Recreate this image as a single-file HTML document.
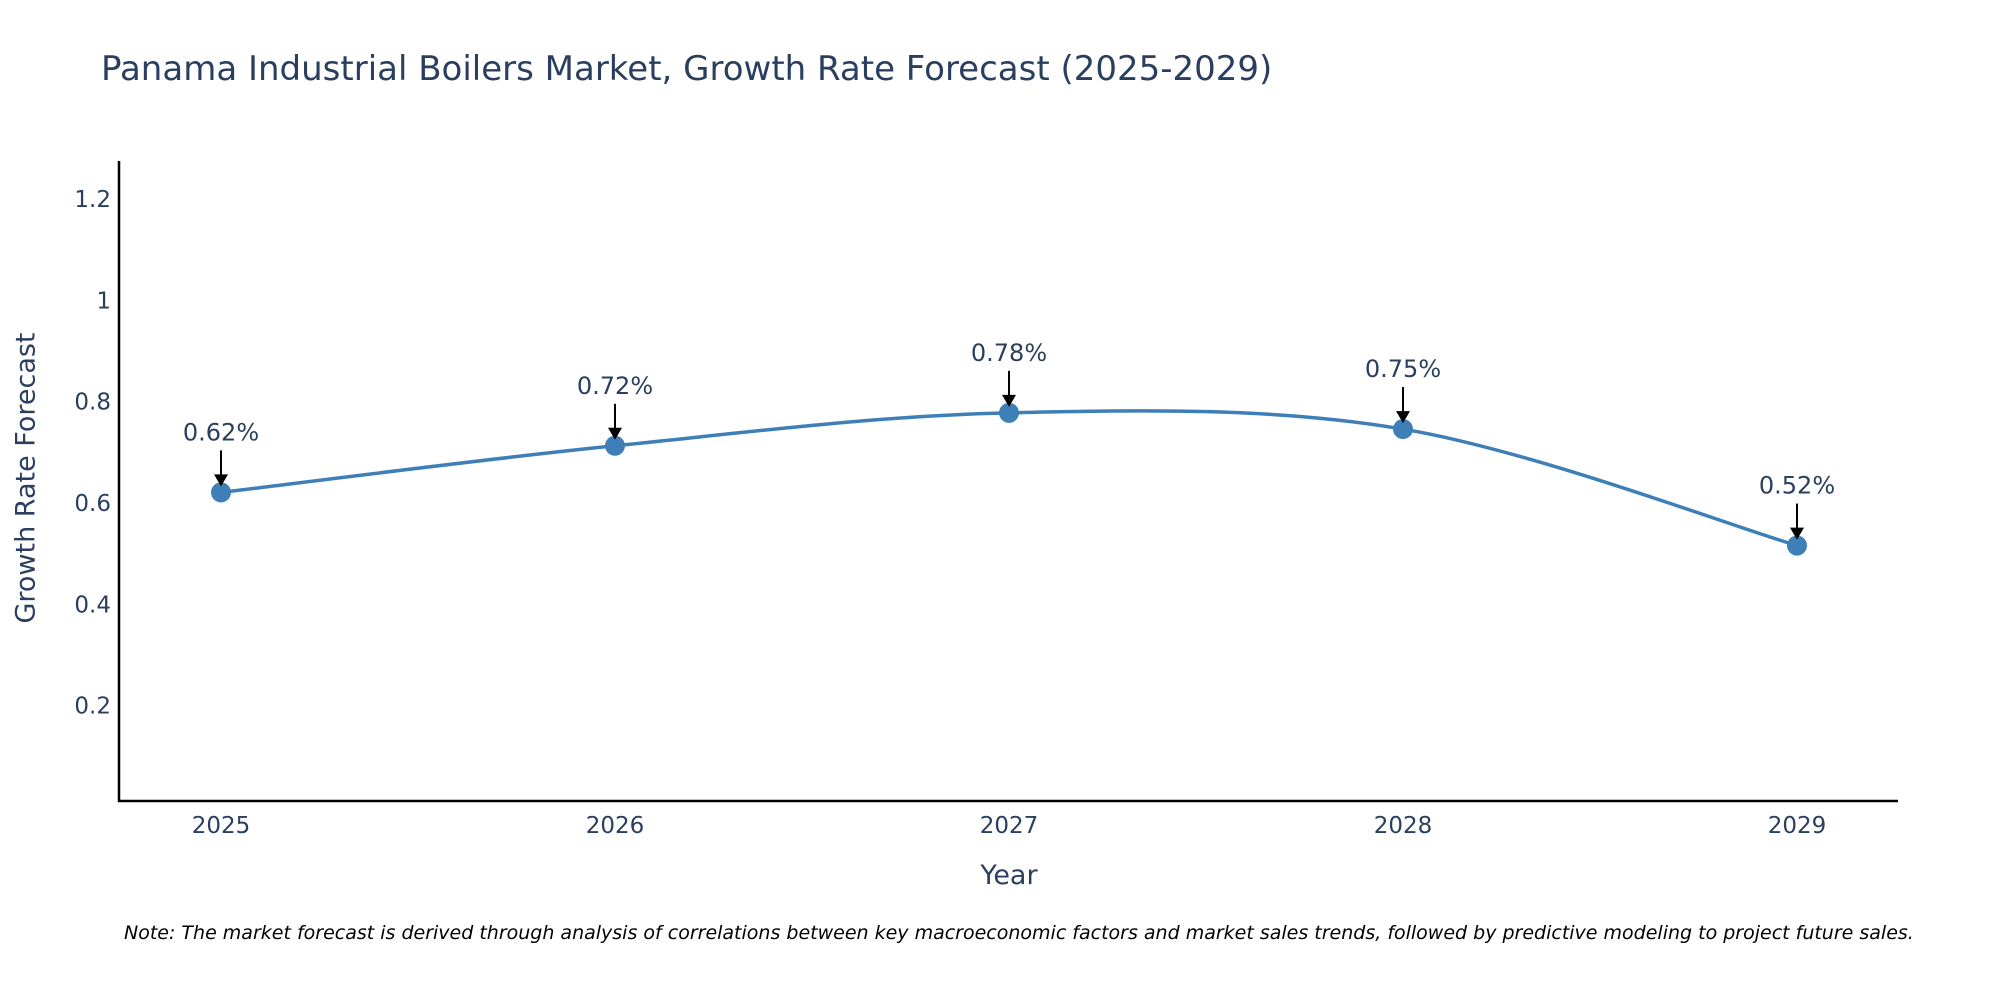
<!DOCTYPE html>
<html><head><meta charset="utf-8"><style>
body{margin:0;background:#fff;}
svg{display:block;font-family:"DejaVu Sans","Liberation Sans",sans-serif;}
</style></head><body>
<svg id="chart" width="2000" height="1000" viewBox="0 0 2000 1000">
<text x="101" y="80" font-size="34" fill="#2a3f5f">Panama Industrial Boilers Market, Growth Rate Forecast (2025-2029)</text>
<g id="yticks"></g>
<g id="xticks"></g>
<line x1="119" y1="161" x2="119" y2="802" stroke="#000" stroke-width="2.5"/>
<line x1="118" y1="801" x2="1898" y2="801" stroke="#000" stroke-width="2.5"/>
<path id="line" fill="none" stroke="#3d7fb6" stroke-width="3.5"/>
<g id="points"></g>
<g id="annots"></g>
<text x="26" y="478" font-size="27" fill="#2a3f5f" text-anchor="middle" transform="rotate(-90 26 478)" dominant-baseline="central">Growth Rate Forecast</text>
<text x="1009" y="884" font-size="27" fill="#2a3f5f" text-anchor="middle">Year</text>
<text x="124" y="939" font-size="19" font-style="italic" fill="#000">Note: The market forecast is derived through analysis of correlations between key macroeconomic factors and market sales trends, followed by predictive modeling to project future sales.</text>
</svg>
<script>
const years = [2025, 2026, 2027, 2028, 2029];
const values = [0.623, 0.715, 0.780, 0.748, 0.518];
const labels = ["0.62%", "0.72%", "0.78%", "0.75%", "0.52%"];
const yTicks = [0.2, 0.4, 0.6, 0.8, 1, 1.2];
const NS = "http://www.w3.org/2000/svg";
const xs = y => 221 + (y - 2025) * 394;
const ys = v => 808 - v * 506.6;
function mk(tag, attrs, parent, txt) {
  const e = document.createElementNS(NS, tag);
  for (const k in attrs) e.setAttribute(k, attrs[k]);
  if (txt !== undefined) e.textContent = txt;
  parent.appendChild(e);
  return e;
}
const yt = document.getElementById('yticks');
yTicks.forEach(t => {
  const e = mk('text', {x: 111, y: ys(t), 'font-size': 23, fill: '#2a3f5f', 'text-anchor': 'end', 'dominant-baseline': 'central'}, yt, String(t));
  
  
});
const xt = document.getElementById('xticks');
years.forEach(y => {
  const e = mk('text', {x: xs(y), y: 833, 'font-size': 23, fill: '#2a3f5f', 'text-anchor': 'middle'}, xt, String(y));
  
  
});
const P = years.map((y, i) => [xs(y), ys(values[i])]);
let d = `M${P[0][0]},${P[0][1]}`;
const s = 0.5 / 3 * 2;
for (let i = 0; i < P.length - 1; i++) {
  const p0 = P[i - 1] || P[i], p1 = P[i], p2 = P[i + 1], p3 = P[i + 2] || P[i + 1];
  const c1 = [p1[0] + (p2[0] - p0[0]) * s / 2, p1[1] + (p2[1] - p0[1]) * s / 2];
  const c2 = [p2[0] - (p3[0] - p1[0]) * s / 2, p2[1] - (p3[1] - p1[1]) * s / 2];
  d += ` C${c1[0]},${c1[1]} ${c2[0]},${c2[1]} ${p2[0]},${p2[1]}`;
}
document.getElementById('line').setAttribute('d', d);
const pts = document.getElementById('points');
const an = document.getElementById('annots');
P.forEach((p, i) => {
  const c = mk('circle', {cx: p[0], cy: p[1], r: 10, fill: '#3d7fb6'}, pts);
  
  
  const ln = mk('line', {x1: p[0], y1: p[1] - 42, x2: p[0], y2: p[1] - 16, stroke: '#000', 'stroke-width': 2}, an);
  
  
  const ar = mk('polygon', {points: `${p[0]-7},${p[1]-18} ${p[0]+7},${p[1]-18} ${p[0]},${p[1]-6}`, fill: '#000'}, an);
  
  
  const t = mk('text', {x: p[0], y: p[1] - 52, 'font-size': 24, fill: '#2a3f5f', 'text-anchor': 'middle'}, an, labels[i]);
  
  
});
</script>
</body></html>
